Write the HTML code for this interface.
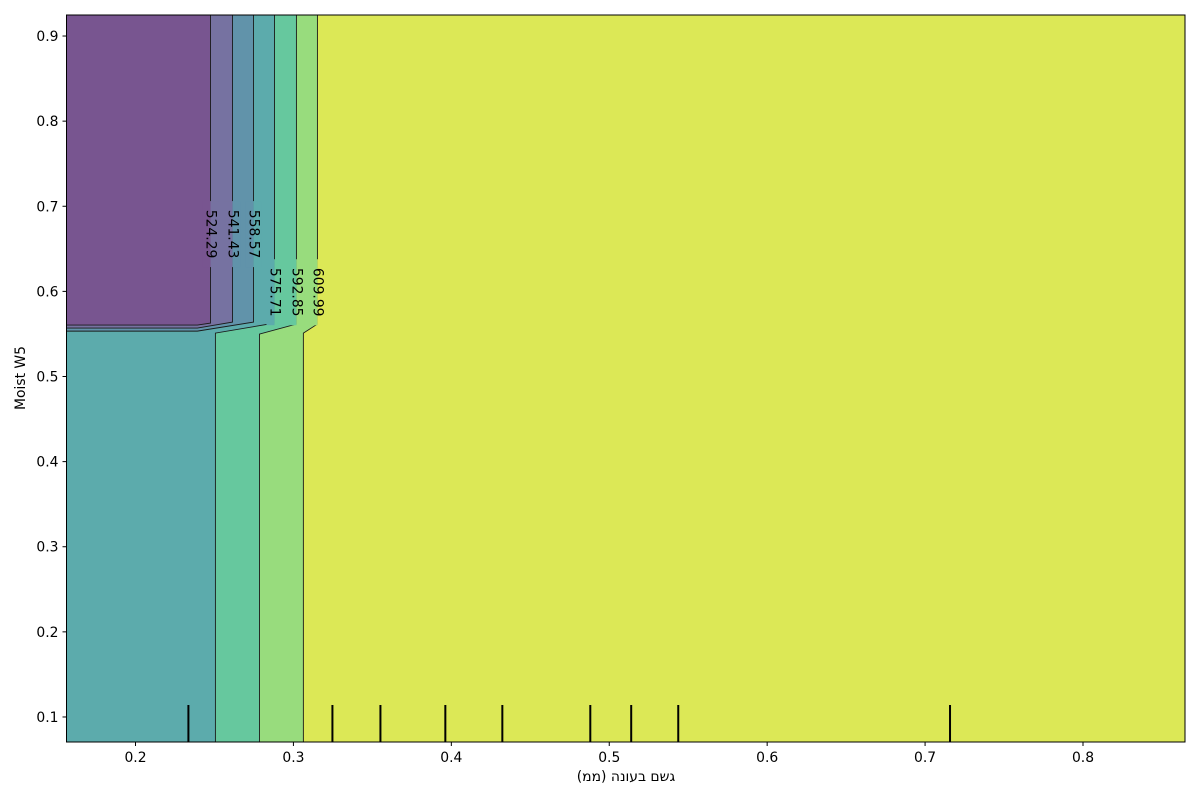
<!DOCTYPE html>
<html><head><meta charset="utf-8"><style>
body{margin:0;background:#fff;}
svg{display:block;font-family:"DejaVu Sans","Liberation Sans",sans-serif;}
</style></head><body>
<svg id="chart" width="1200" height="800" viewBox="0 0 1200 800">
<rect width="1200" height="800" fill="#fff"/>
<g id="plot"></g>
</svg>
<script>
const levels=[524.29,541.43,558.57,575.71,592.85,609.99];
const levelColors=["#7672a1","#6193aa","#5cabac","#66c89e","#98dc7d","#dce856"];
const baseColor="#785590";
const upperX=[0.2475,0.2614,0.2747,0.2880,0.3019,0.3152];
const upperKneeY=[0.5627,0.5639,0.5639,0.5627,0.5616,0.5616];
const lowerX=[null,null,null,0.2506,0.2785,0.3063];
const lowerKneeY=[0.5604,0.5569,0.5533,0.5510,0.5498,0.5510];
const labelY=[0.6673,0.6673,0.6673,0.5990,0.5990,0.5990];
const rugX=[0.2335,0.3247,0.3551,0.3962,0.4323,0.4880,0.5139,0.5437,0.7158];
const xTicks=[0.2,0.3,0.4,0.5,0.6,0.7,0.8];
const yTicks=[0.1,0.2,0.3,0.4,0.5,0.6,0.7,0.8,0.9];
const xMin=0.1563,xMax=0.8646,yMin=0.0706,yMax=0.9247;
const L=66.5,R=1185,T=15,B=742;
const sx=v=>L+(v-xMin)/(xMax-xMin)*(R-L);
const sy=v=>B-(v-yMin)/(yMax-yMin)*(B-T);
const NS="http://www.w3.org/2000/svg";
const g=document.getElementById('plot');
function mk(tag,attrs,parent){const e=document.createElementNS(NS,tag);for(const k in attrs)e.setAttribute(k,attrs[k]);(parent||g).appendChild(e);return e;}
const bg=mk('rect',{x:L,y:T,width:R-L,height:B-T,fill:baseColor});


function boundary(i){
  const pts=[[upperX[i],yMax],[upperX[i],upperKneeY[i]]];
  if(lowerX[i]===null){pts.push([0.2392,lowerKneeY[i]]);pts.push([xMin,lowerKneeY[i]]);}
  else{pts.push([lowerX[i],lowerKneeY[i]]);pts.push([lowerX[i],yMin]);}
  return pts;
}
levels.forEach((lv,i)=>{
  const b=boundary(i);
  const poly=b.concat(lowerX[i]===null?[[xMin,yMin],[xMax,yMin],[xMax,yMax]]:[[xMax,yMin],[xMax,yMax]]);
  const p=mk('polygon',{points:poly.map(q=>sx(q[0])+','+sy(q[1])).join(' '),fill:levelColors[i]});
  
  
});
levels.forEach((lv,i)=>{
  const b=boundary(i);
  const l=mk('polyline',{points:b.map(q=>sx(q[0])+','+sy(q[1])).join(' '),fill:'none',stroke:'#1a1a1a','stroke-width':0.9});
  
  
});
levels.forEach((lv,i)=>{
  const cx=sx(upperX[i]),cy=sy(labelY[i]);
  const r1=mk('rect',{x:cx-8,y:cy-33,width:8,height:66,fill:i<1?baseColor:levelColors[i-1]});
  
  
  const r2=mk('rect',{x:cx,y:cy-33,width:8,height:66,fill:levelColors[i]});
  
  
  const t=mk('text',{x:cx,y:cy,'font-size':13.9,'text-anchor':'middle','dominant-baseline':'central',transform:`rotate(90 ${cx} ${cy})`,fill:'#000'});
  t.textContent=lv.toFixed(2);
  
  
});
rugX.forEach(v=>{
  const l=mk('line',{x1:sx(v),x2:sx(v),y1:705,y2:B,stroke:'#000','stroke-width':2});
  
  
});
const fr=mk('rect',{x:L,y:T,width:R-L,height:B-T,fill:'none',stroke:'#000','stroke-width':1});


xTicks.forEach(v=>{
  const x=sx(v);
  const tk=mk('line',{x1:x,x2:x,y1:B,y2:B+4,stroke:'#000'});
  
  
  const t=mk('text',{x:x,y:B+20,'font-size':13.9,'text-anchor':'middle',fill:'#000'});
  t.textContent=v.toFixed(1);
  
  
});
yTicks.forEach(v=>{
  const y=sy(v);
  const tk=mk('line',{x1:L-4,x2:L,y1:y,y2:y,stroke:'#000'});
  
  
  const t=mk('text',{x:L-8,y:y+5,'font-size':13.9,'text-anchor':'end',fill:'#000'});
  t.textContent=v.toFixed(1);
  
  
});
</script>
<div style="position:absolute;left:0;top:769px;width:1252px;text-align:center;font:13.9px 'DejaVu Sans','Liberation Sans',sans-serif;"><bdo dir="ltr">(&#x05DE;&#x05DE;) &#x05D4;&#x05E0;&#x05D5;&#x05E2;&#x05D1; &#x05DD;&#x05E9;&#x05D2;</bdo></div>
<div style="position:absolute;left:21px;top:378px;transform:translate(-50%,-50%) rotate(-90deg);font:13.9px 'DejaVu Sans','Liberation Sans',sans-serif;white-space:nowrap;">Moist W5</div>
</body></html>
